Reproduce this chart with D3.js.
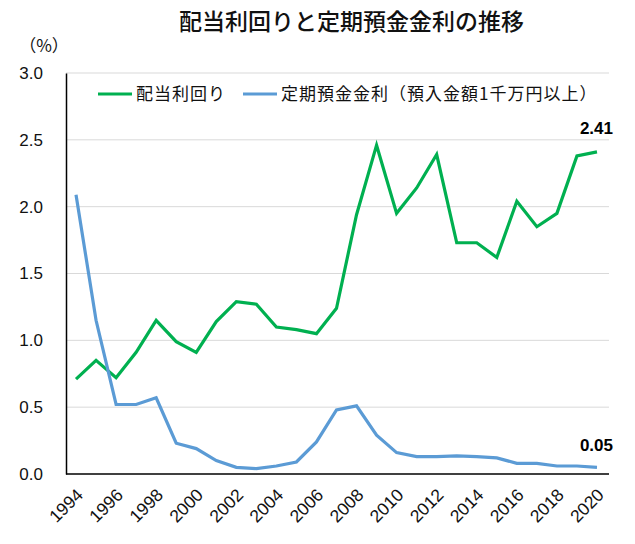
<!DOCTYPE html>
<html><head><meta charset="utf-8">
<script src="https://cdn.jsdelivr.net/npm/d3@7"></script>
<style>body{margin:0;background:#fff;}svg{display:block;font-family:"Noto Sans CJK JP","Noto Sans",sans-serif;}</style>
</head><body><svg id="c" width="635" height="544"></svg>
<script>
const years = d3.range(1994, 2021);
const dividendYield = [0.71,0.85,0.72,0.91,1.15,0.99,0.91,1.14,1.29,1.27,1.10,1.08,1.05,1.24,1.94,2.46,1.95,2.14,2.39,1.73,1.73,1.62,2.04,1.85,1.95,2.38,2.41];
const depositRate = [2.09,1.15,0.52,0.52,0.57,0.23,0.19,0.10,0.05,0.04,0.06,0.09,0.24,0.48,0.51,0.29,0.16,0.13,0.13,0.135,0.13,0.12,0.08,0.08,0.06,0.06,0.05];
const yTicks = [0,0.5,1.0,1.5,2.0,2.5,3.0];
const xTickYears = d3.range(1994, 2021, 2);
const seriesNames = ["配当利回り","定期預金金利（預入金額1千万円以上）"];
const colors = ["#00B050","#5B9BD5"];
const title = "配当利回りと定期預金金利の推移";

const svg = d3.select("#c");
const L=66, R=607, T=73, B=474;
const x = d3.scaleBand().domain(years).range([L,R]);
const y = d3.scaleLinear().domain([0,3]).range([B,T]);
const cx = d => x(d)+x.bandwidth()/2;
const numFont = "Liberation Sans, Arial, sans-serif";

svg.append("text").attr("x",179).attr("y",30).attr("text-anchor","start")
  .attr("font-size",23).attr("font-weight",500).attr("fill","#111").text(title);
svg.append("text").attr("x",44).attr("y",52).attr("text-anchor","middle")
  .attr("font-size",17).attr("fill","#111").text("（%）");

// grid
svg.append("g").selectAll("line").data(yTicks.filter(d=>d>0)).join("line")
  .attr("x1",L).attr("x2",R+2).attr("y1",d=>y(d)).attr("y2",d=>y(d))
  .attr("stroke","#d9d9d9").attr("stroke-width",1);

// y axis
const ya = svg.append("g").attr("transform",`translate(${L},0)`)
  .call(d3.axisLeft(y).tickValues(yTicks).tickFormat(d3.format(".1f")).tickSize(0).tickPadding(23));
ya.select(".domain").attr("stroke","#000").attr("stroke-width",1.5);
ya.selectAll("text").attr("font-size",17).attr("font-family",numFont).attr("fill","#111");

// x axis
const xa = svg.append("g").attr("transform",`translate(0,${B})`)
  .call(d3.axisBottom(x).tickValues(xTickYears).tickSize(0).tickPadding(0));
xa.select(".domain").attr("stroke","#000").attr("stroke-width",1.5).attr("d",`M${L},0H${R+2}`);
xa.selectAll("text").attr("font-size",17.5).attr("font-family",numFont)
  .attr("fill","#111").attr("text-anchor","end").attr("dy","0")
  .attr("transform","translate(8,22) rotate(-45)");

const line = d3.line().x((d,i)=>cx(years[i])).y(d=>y(d));
[dividendYield, depositRate].forEach((s,k)=>{
  svg.append("path").datum(s).attr("d",line).attr("fill","none")
    .attr("stroke",colors[k]).attr("stroke-width",3.2).attr("stroke-linejoin","miter");
});

// end labels
const last = years.length-1;
svg.append("text").attr("x",cx(years[last])+16).attr("y",y(dividendYield[last])-18)
  .attr("text-anchor","end").attr("font-size",17).attr("font-weight","bold")
  .attr("font-family",numFont).attr("fill","#000").text(dividendYield[last].toFixed(2));
svg.append("text").attr("x",cx(years[last])+16).attr("y",y(depositRate[last])-16)
  .attr("text-anchor","end").attr("font-size",17).attr("font-weight","bold")
  .attr("font-family",numFont).attr("fill","#000").text(depositRate[last].toFixed(2));

// legend
const lg = svg.append("g").attr("transform","translate(98,94)");
const lx = [0, 145];
seriesNames.forEach((n,k)=>{
  const g = lg.append("g").attr("transform",`translate(${lx[k]},0)`);
  g.append("line").attr("x1",0).attr("x2",34).attr("y1",0).attr("y2",0).attr("stroke",colors[k]).attr("stroke-width",3.2);
  g.append("text").attr("x",38).attr("y",6).attr("font-size",17).attr("letter-spacing",1).attr("fill","#111").text(n);
});
</script></body></html>
